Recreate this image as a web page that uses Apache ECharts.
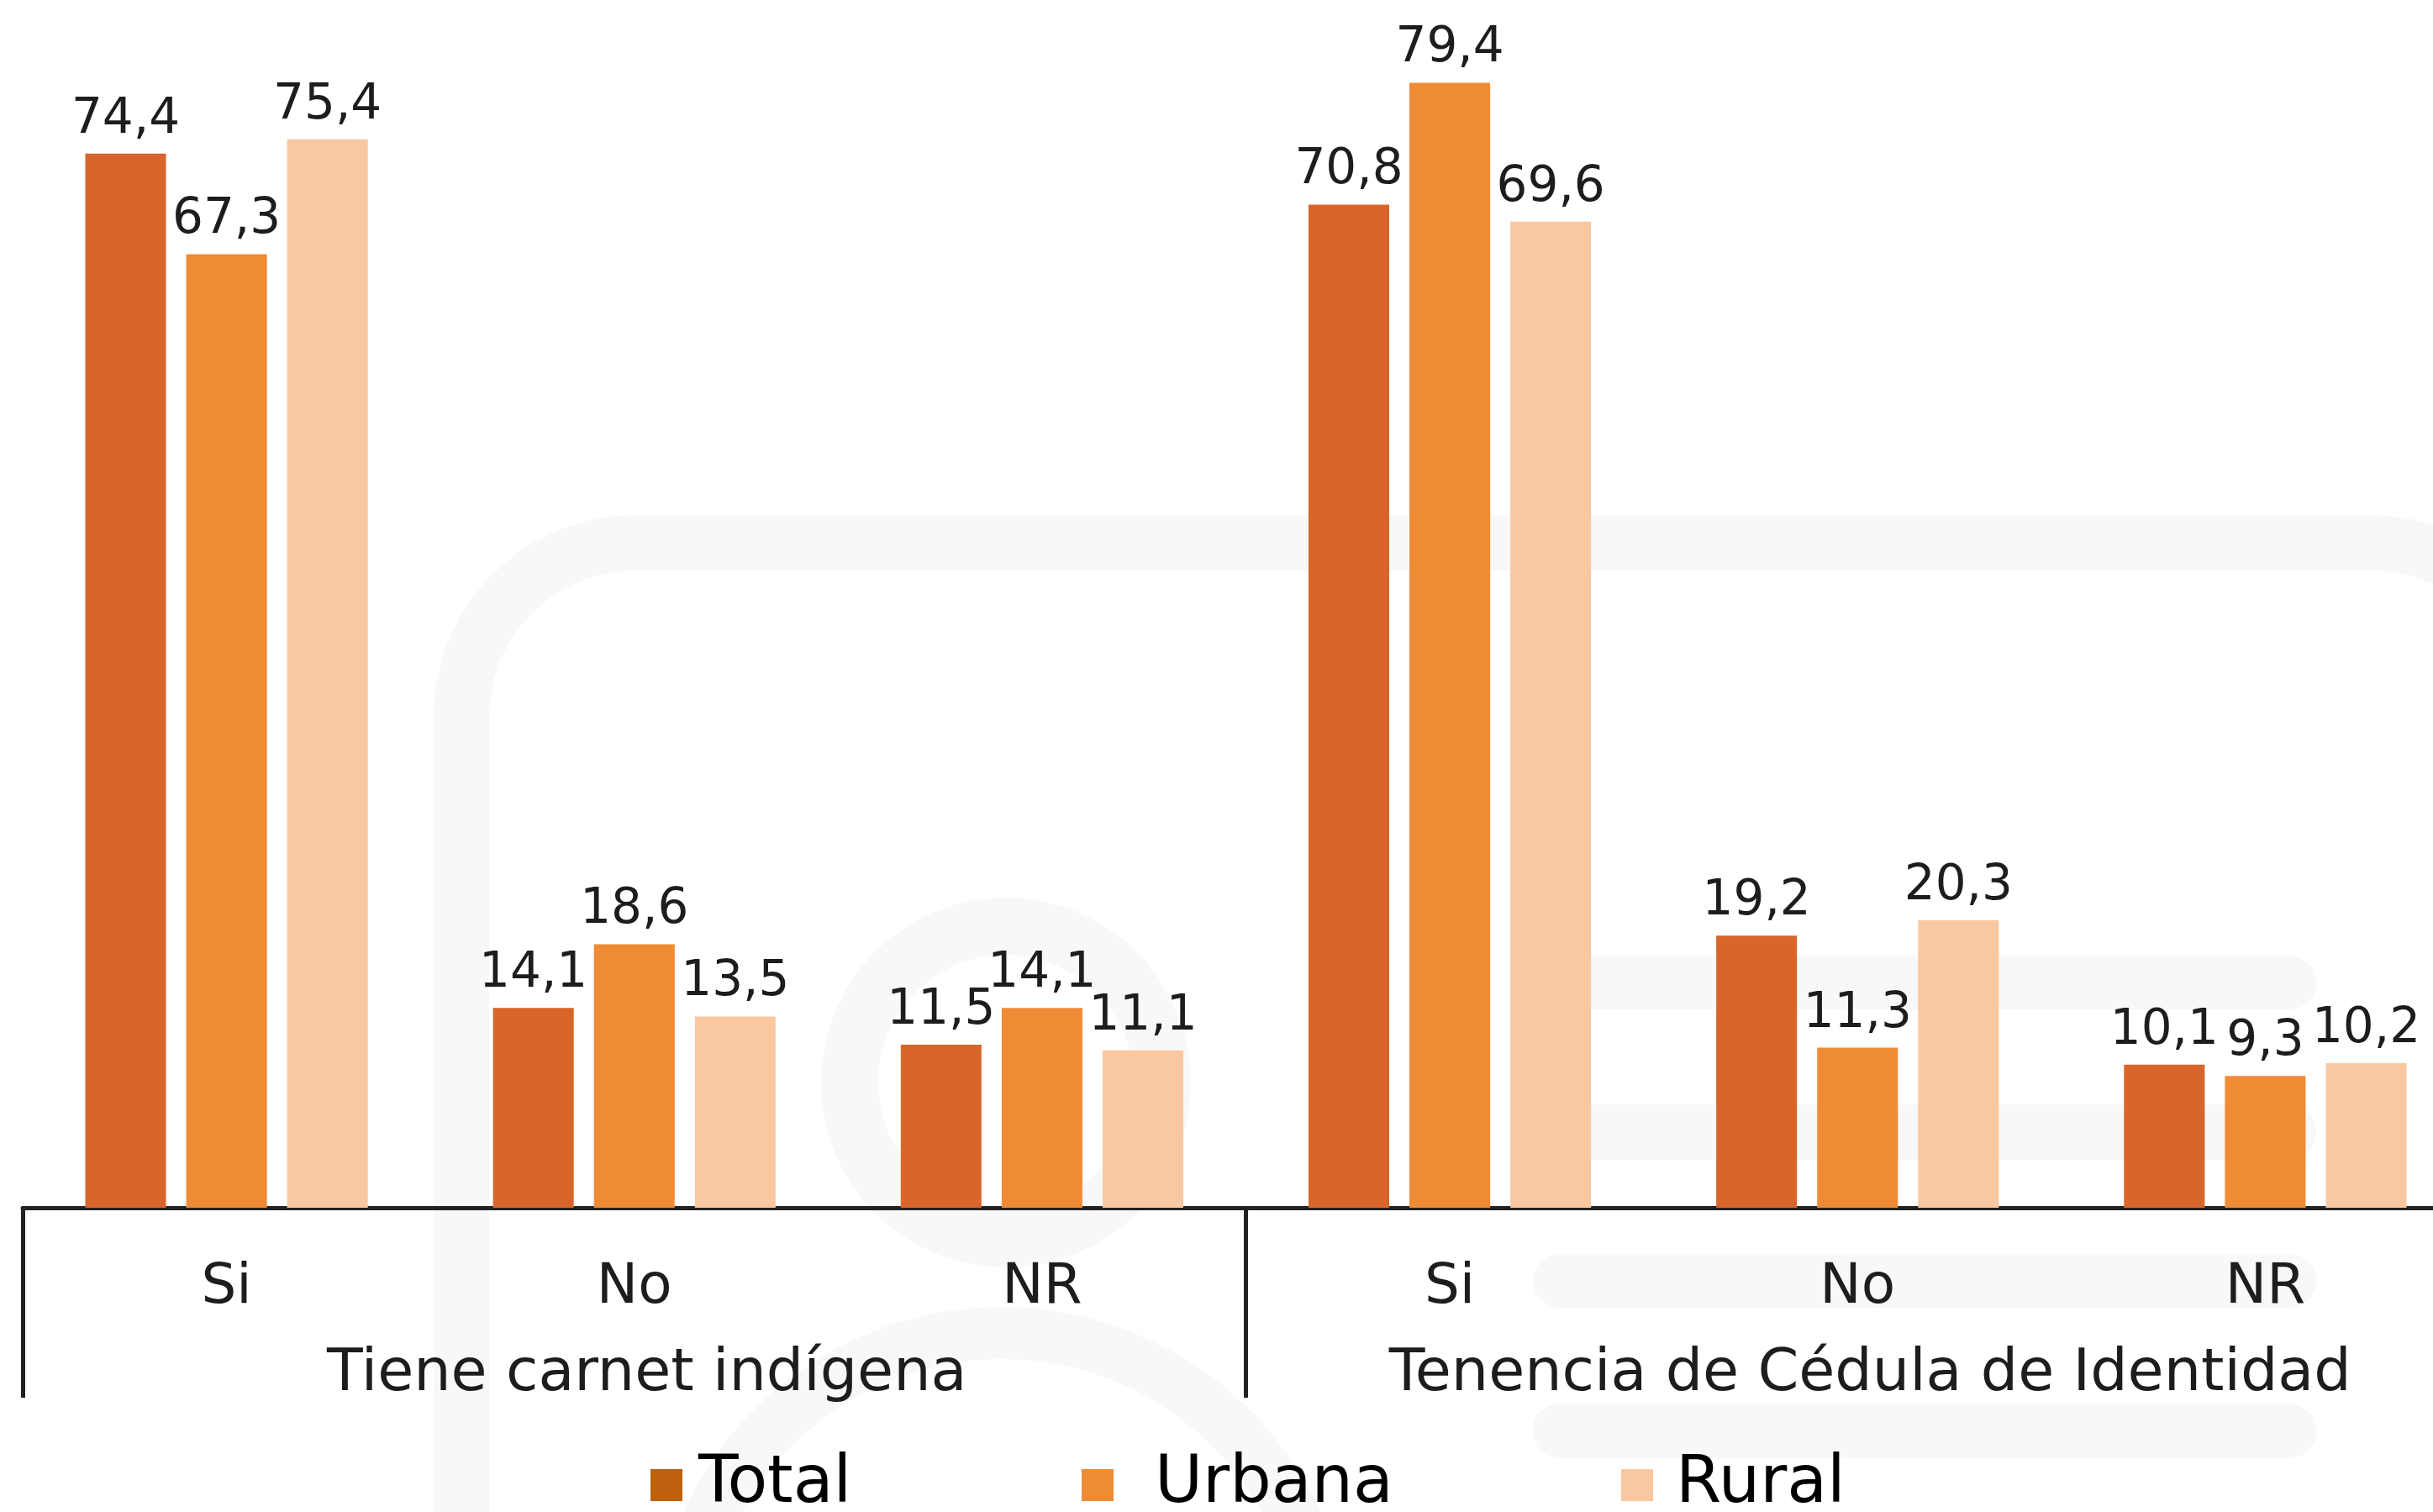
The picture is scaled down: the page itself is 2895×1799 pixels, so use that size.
<!DOCTYPE html>
<html>
<head>
<meta charset="utf-8">
<script src="https://cdn.jsdelivr.net/npm/echarts@6/dist/echarts.min.js"></script>
<style>
html,body{margin:0;padding:0;background:#fff;}
#chart{width:2895px;height:1799px;}
</style>
</head>
<body>
<div id="chart"></div>
<script>
// ---- data ----
var categories = ['Si', 'No', 'NR', 'Si', 'No', 'NR'];
var groups = ['Tiene carnet indígena', 'Tenencia de Cédula de Identidad'];
var seriesNames = ['Total', 'Urbana', 'Rural'];
var totalValues = [74.4, 14.1, 11.5, 70.8, 19.2, 10.1];
var urbanaValues = [67.3, 18.6, 14.1, 79.4, 11.3, 9.3];
var ruralValues = [75.4, 13.5, 11.1, 69.6, 20.3, 10.2];

var FONT = 'DejaVu Sans';
var colors = ['#D9652B', '#F08B35', '#F9C8A0'];
var legendColors = ['#BE610F', '#F08B35', '#F9C8A0'];
var wm = '#F7F8F7';

function fmt(p) { return p.value.toFixed(1).replace('.', ','); }

function barSeries(name, data, color) {
  return {
    name: name, type: 'bar', data: data,
    barCategoryGap: '30.7%', barGap: '25%',
    itemStyle: { color: color },
    label: { show: true, position: 'top', distance: 11, formatter: fmt,
      fontFamily: FONT, fontSize: 58, color: '#1d1d1b' }
  };
}

function legendFor(i, left, pad) {
  return {
    left: left, top: 1723, orient: 'horizontal',
    icon: 'rect', itemWidth: 38, itemHeight: 38,
    selectedMode: false,
    data: [{ name: seriesNames[i], itemStyle: { color: legendColors[i] } }],
    textStyle: { fontFamily: FONT, fontSize: 78, color: '#000', lineHeight: 78,
      padding: [0, 0, 0, pad] }
  };
}

var chart = echarts.init(document.getElementById('chart'));
chart.setOption({
  backgroundColor: '#fff',
  animation: false,
  grid: { left: 27, width: 2911, top: 4, height: 1433, outerBoundsMode: 'none', containLabel: false },
  legend: [legendFor(0, 769, 14), legendFor(1, 1282, 44), legendFor(2, 1924, 22)],
  graphic: [
    { type: 'rect', z: -100, silent: true,
      shape: { x: 549, y: 646, width: 2480, height: 2000, r: 207 },
      style: { fill: null, stroke: wm, lineWidth: 66 } },
    { type: 'circle', z: -100, silent: true,
      shape: { cx: 1197, cy: 1288, r: 186 },
      style: { fill: null, stroke: wm, lineWidth: 68 } },
    { type: 'circle', z: -100, silent: true,
      shape: { cx: 1192, cy: 1971, r: 385 },
      style: { fill: null, stroke: wm, lineWidth: 62 } },
    { type: 'rect', z: -100, silent: true,
      shape: { x: 1824, y: 1137, width: 932, height: 64, r: 32 }, style: { fill: wm } },
    { type: 'rect', z: -100, silent: true,
      shape: { x: 1824, y: 1314, width: 932, height: 66, r: 32 }, style: { fill: wm } },
    { type: 'rect', z: -100, silent: true,
      shape: { x: 1824, y: 1492, width: 932, height: 64, r: 32 }, style: { fill: wm } },
    { type: 'rect', z: -100, silent: true,
      shape: { x: 1824, y: 1670, width: 932, height: 65, r: 32 }, style: { fill: wm } }
  ],
  xAxis: [
    { type: 'category', data: categories, position: 'bottom',
      axisLine: { show: true, lineStyle: { color: '#222', width: 5 } },
      axisTick: { show: false },
      axisLabel: { interval: 0, margin: 63, fontFamily: FONT, fontSize: 66, color: '#1d1d1b' } },
    { type: 'category', data: groups, position: 'bottom',
      axisLine: { show: false },
      axisTick: { show: true, length: 226, lineStyle: { color: '#222', width: 5 } },
      axisLabel: { interval: 0, margin: 164, fontFamily: FONT, fontSize: 70, color: '#1d1d1b',
        padding: [0, 0, 0, 30] } }
  ],
  yAxis: { type: 'value', min: 0, max: 85, show: false, splitLine: { show: false } },
  series: [
    barSeries(seriesNames[0], totalValues, colors[0]),
    barSeries(seriesNames[1], urbanaValues, colors[1]),
    barSeries(seriesNames[2], ruralValues, colors[2])
  ]
});
</script>
</body>
</html>
